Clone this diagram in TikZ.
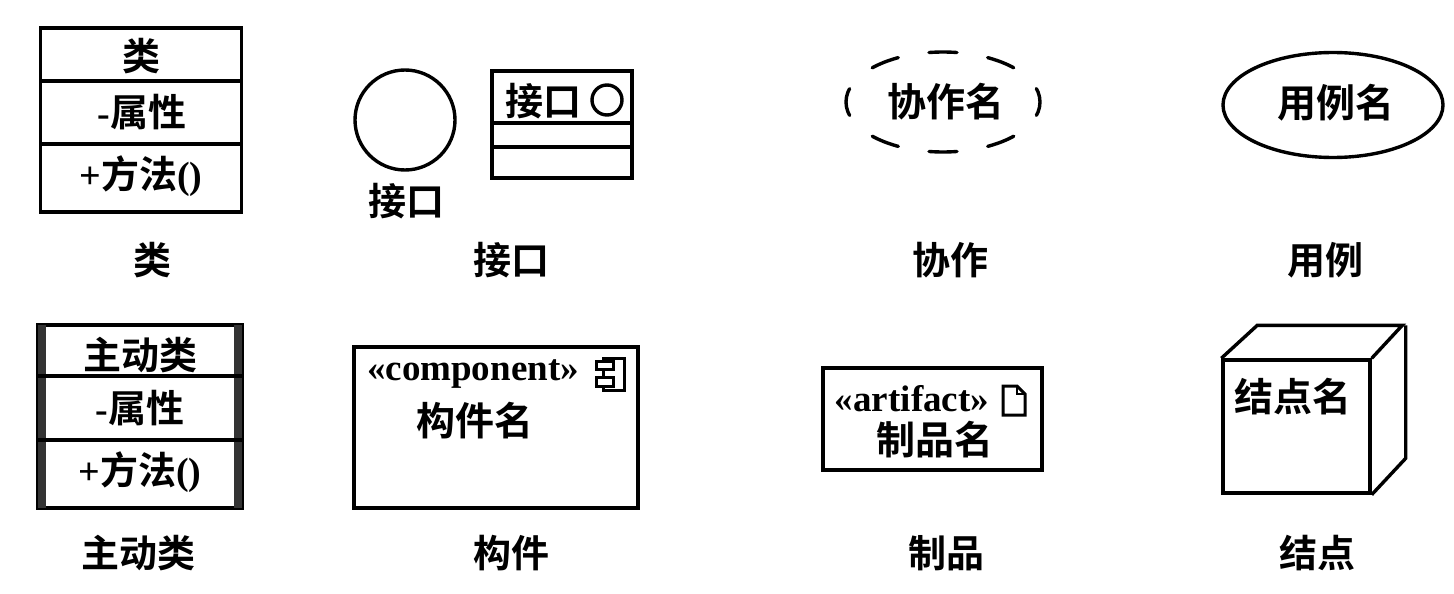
\documentclass[tikz,border=0pt]{standalone}
\usepackage{fontspec}
\setmainfont{Liberation Serif}
\newfontfamily\cjk[BoldFont={Noto Sans CJK SC Bold}]{Noto Sans CJK SC}
\usetikzlibrary{shapes.geometric}
\tikzset{
  ln/.style={line width=3.4pt, line join=miter},
  box/.style={ln, draw, rectangle, inner sep=0pt, fill=white},
  cj/.style={inner sep=0pt, font=\cjk\bfseries\fontsize{38}{38}\selectfont},
  cjb/.style={inner sep=0pt, font=\cjk\bfseries\fontsize{39}{39}\selectfont},
  lat/.style={inner sep=0pt, font=\bfseries\fontsize{37}{37}\selectfont},
}
\newcommand{\sr}[1]{{\rmfamily\bfseries #1}}
\begin{document}
\begin{tikzpicture}[x=1pt, y=-1pt]
\useasboundingbox (0,0) rectangle (1454,594);
\fill[white] (0,0) rectangle (1454,594);

% ---- Class
\node[box, minimum width=201pt, minimum height=184pt] (cls) at (141,120) {};
\draw[ln] (40,81) -- (242,81);
\draw[ln] (40,144) -- (242,144);
\node[cj] (clsname) at (141,56) {类};
\node[cj] (clsattr) at (142,112) {\sr{-}属性};
\node[cj] (clsop) at (141,176) {\sr{+}方法\sr{()}};
\node[cj] (lblcls) at (152,260) {类};

% ---- Interface
\node[ln, draw, circle, minimum size=100pt, inner sep=0pt] (ifc) at (405,120) {};
\node[cj] (ifcname) at (406,201) {接口};
\node[box, minimum width=140pt, minimum height=107pt] (ifcbox) at (562,124.5) {};
\draw[ln] (492,123) -- (632,123);
\draw[ln] (492,147) -- (632,147);
\node[cj] (ifcbname) at (543,101) {接口};
\node[ln, draw, circle, minimum size=30pt, inner sep=0pt] (ifcicon) at (607,100) {};
\node[cj] (lblifc) at (511,260) {接口};

% ---- Collaboration
\draw[ln, dash pattern=on 28pt off 31.2pt, dash phase=14pt, line cap=round] (943,102) ellipse [x radius=97, y radius=50];
\node[cjb] (collab) at (946,102) {协作名};
\node[cj] (lblcollab) at (950,260) {协作};

% ---- Use case
\node[ln, draw, ellipse, minimum width=220pt, minimum height=105pt, inner sep=0pt] (uc) at (1333,105) {};
\node[cjb] (ucname) at (1336,103) {用例名};
\node[cj] (lbluc) at (1325,260) {用例};

% ---- Active class
\node[box, minimum width=204pt, minimum height=183pt] (acls) at (140,416.5) {};
\fill[black!80] (38,325) rectangle (46,508);
\fill[black!80] (234,325) rectangle (242,508);
\draw[ln] (38,376) -- (242,376);
\draw[ln] (38,440) -- (242,440);
\node[cj] (aclsname) at (140,355) {主动类};
\node[cj] (aclsattr) at (140,408) {\sr{-}属性};
\node[cj] (aclsop) at (140,472) {\sr{+}方法\sr{()}};
\node[cj] (lblacls) at (138,553) {主动类};

% ---- Component
\node[box, minimum width=284pt, minimum height=161pt] (comp) at (496,427.5) {};
\node[lat] (compst) at (473,374) {«component»};
\draw[line width=3pt] (603,358) rectangle (624,390);
\draw[line width=3pt, fill=white] (596,361) rectangle (613,369);
\draw[line width=3pt, fill=white] (596,377) rectangle (613,386);
\node[cjb] (compname) at (475,421) {构件名};
\node[cj] (lblcomp) at (511,553) {构件};

% ---- Artifact
\node[box, minimum width=219pt, minimum height=102pt] (art) at (932.5,419) {};
\node[lat] (artst) at (912,399) {«artifact»};
\draw[line width=3pt, line join=miter] (1003,386) -- (1017,386) -- (1025,394) -- (1025,415) -- (1003,415) -- cycle;
\draw[line width=2.5pt] (1017,386) -- (1017,394) -- (1025,394);
\node[cjb] (artname) at (935,440) {制品名};
\node[cj] (lblart) at (946,553) {制品};

% ---- Node (cube)
\node[box, minimum width=147pt, minimum height=133pt] (nd) at (1296.5,426.5) {};
\draw[ln] (nd.north west) -- ++(36,-33) -- ++(145,0) -- (nd.north east);
\draw[ln] (nd.north east) ++(34,-33) -- ++(0,133) -- (nd.south east);
\node[cjb] (ndname) at (1293,397) {结点名};
\node[cj] (lblnd) at (1317,553) {结点};
\end{tikzpicture}
\end{document}
